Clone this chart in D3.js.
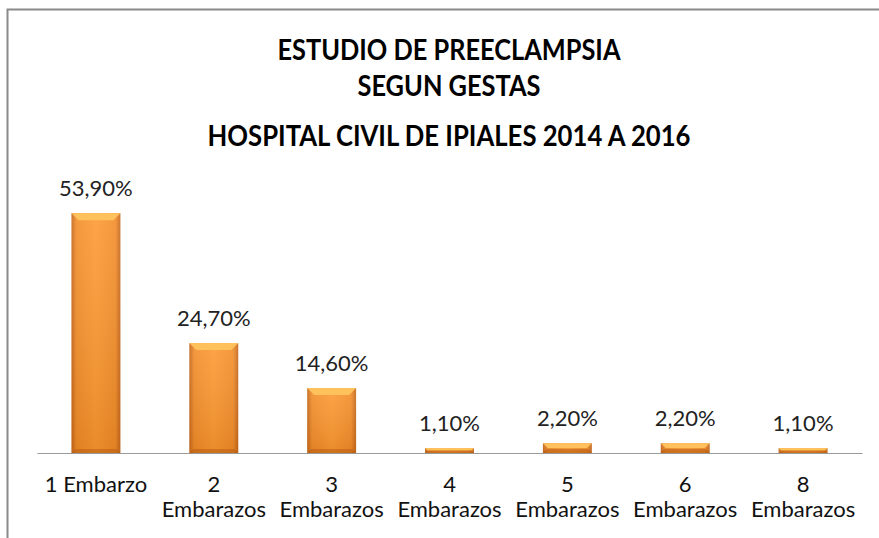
<!DOCTYPE html>
<html>
<head>
<meta charset="utf-8">
<script src="https://cdn.jsdelivr.net/npm/d3@7"></script>
<style>
  body { margin: 0; background: #fff; }
  svg { display: block; }
</style>
</head>
<body>
<div id="chart"></div>
<script>
// data
var categories = ["1 Embarzo", "2 Embarazos", "3 Embarazos", "4 Embarazos", "5 Embarazos", "6 Embarazos", "8 Embarazos"];
var values = [53.9, 24.7, 14.6, 1.1, 2.2, 2.2, 1.1];
var titleLines = ["ESTUDIO DE PREECLAMPSIA", "SEGUN GESTAS", "HOSPITAL CIVIL DE IPIALES 2014 A 2016"];

var width = 879, height = 538;
var fontFamily = "Lato, 'Noto Sans', sans-serif";

var svg = d3.select("#chart").append("svg")
	.attr("width", width)
	.attr("height", height);

var defs = svg.append("defs");

// horizontal shading, darker at the sides
var gH = defs.append("linearGradient").attr("id", "barH").attr("x1", 0).attr("x2", 1).attr("y1", 0).attr("y2", 0);
gH.append("stop").attr("offset", "0%").attr("stop-color", "#c4661a");
gH.append("stop").attr("offset", "10%").attr("stop-color", "#f28d2a");
gH.append("stop").attr("offset", "50%").attr("stop-color", "#fd9a32");
gH.append("stop").attr("offset", "90%").attr("stop-color", "#f28d2a");
gH.append("stop").attr("offset", "100%").attr("stop-color", "#c4661a");

// vertical shading, lighter at top
var gV = defs.append("linearGradient").attr("id", "barV").attr("x1", 0).attr("x2", 0).attr("y1", 0).attr("y2", 1);
gV.append("stop").attr("offset", "0%").attr("stop-color", "#fff").attr("stop-opacity", 0.1);
gV.append("stop").attr("offset", "100%").attr("stop-color", "#7a3a00").attr("stop-opacity", 0.15);

// frame of the chart area
svg.append("rect")
	.attr("x", 7.5).attr("y", 9.5)
	.attr("width", 1000).attr("height", 1000)
	.attr("fill", "none")
	.attr("stroke", "#8a8a8a")
	.attr("stroke-width", 2);

// titles
var titleY = [60, 96, 146];
var titleW = [343, 183, 483];
svg.selectAll(".title")
	.data(titleLines)
	.enter().append("text")
	.attr("class", "title")
	.attr("x", 449)
	.attr("y", function(d, i) { return titleY[i]; })
	.attr("text-anchor", "middle")
	.attr("font-family", fontFamily)
	.attr("font-weight", "bold")
	.attr("font-size", 28)
	.attr("fill", "#000")
	.attr("textLength", function(d, i) { return titleW[i]; })
	.attr("lengthAdjust", "spacingAndGlyphs")
	.text(function(d) { return d; });

var plotLeft = 37, plotRight = 862, baseY = 453;

var x = d3.scaleBand()
	.domain(categories)
	.range([plotLeft, plotRight])
	.paddingInner(0.585)
	.paddingOuter(0.2925);

var y = d3.scaleLinear()
	.domain([0, 60])
	.range([baseY, baseY - 267]);

var bars = svg.selectAll(".bar")
	.data(values)
	.enter().append("g")
	.attr("class", "bar");

bars.append("rect")
	.attr("x", function(d, i) { return x(categories[i]); })
	.attr("y", function(d) { return y(d); })
	.attr("width", x.bandwidth())
	.attr("height", function(d) { return baseY - y(d); })
	.attr("fill", "url(#barH)");

bars.append("rect")
	.attr("x", function(d, i) { return x(categories[i]); })
	.attr("y", function(d) { return y(d); })
	.attr("width", x.bandwidth())
	.attr("height", function(d) { return baseY - y(d); })
	.attr("fill", "url(#barV)");

// bevel on top
bars.append("path")
	.attr("d", function(d, i) {
		var x0 = x(categories[i]), x1 = x0 + x.bandwidth(), t = y(d);
		var h = Math.min(7, (baseY - t) / 2);
		return "M" + x0 + "," + t + "L" + x1 + "," + t + "L" + (x1 - h) + "," + (t + h) + "L" + (x0 + h) + "," + (t + h) + "Z";
	})
	.attr("fill", "#ffc35e")
	.attr("opacity", 0.95);

// bevel on bottom
bars.append("path")
	.attr("d", function(d, i) {
		var x0 = x(categories[i]), x1 = x0 + x.bandwidth(), t = y(d);
		var h = Math.min(4, (baseY - t) / 2);
		return "M" + x0 + "," + baseY + "L" + x1 + "," + baseY + "L" + (x1 - h) + "," + (baseY - h) + "L" + (x0 + h) + "," + (baseY - h) + "Z";
	})
	.attr("fill", "#b45a12")
	.attr("opacity", 0.5);

// value labels
bars.append("text")
	.attr("x", function(d, i) { return x(categories[i]) + x.bandwidth() / 2; })
	.attr("y", function(d) { return y(d) - 17; })
	.attr("text-anchor", "middle")
	.attr("font-family", fontFamily)
	.attr("font-size", 22)
	.attr("fill", "#222")
	.text(function(d) { return d3.format(".2f")(d).replace(".", ",") + "%"; });

// axis line and category labels
var xAxis = svg.append("g")
	.attr("transform", "translate(0," + baseY + ")")
	.call(d3.axisBottom(x).tickSize(0).tickPadding(0));

xAxis.select(".domain")
	.attr("stroke", "#9a9a9a")
	.attr("stroke-width", 1.2);

xAxis.selectAll(".tick text")
	.attr("font-family", fontFamily)
	.attr("font-size", 22)
	.attr("fill", "#111")
	.attr("dy", null)
	.attr("y", 39)
	.each(function(d) {
		var t = d3.select(this);
		if (this.getComputedTextLength() > x.step() - 4) {
			var words = d.split(" ");
			t.text(null);
			t.append("tspan").attr("x", 0).attr("y", 39).text(words[0]);
			t.append("tspan").attr("x", 0).attr("y", 64).text(words.slice(1).join(" "));
		}
	});
</script>
</body>
</html>
